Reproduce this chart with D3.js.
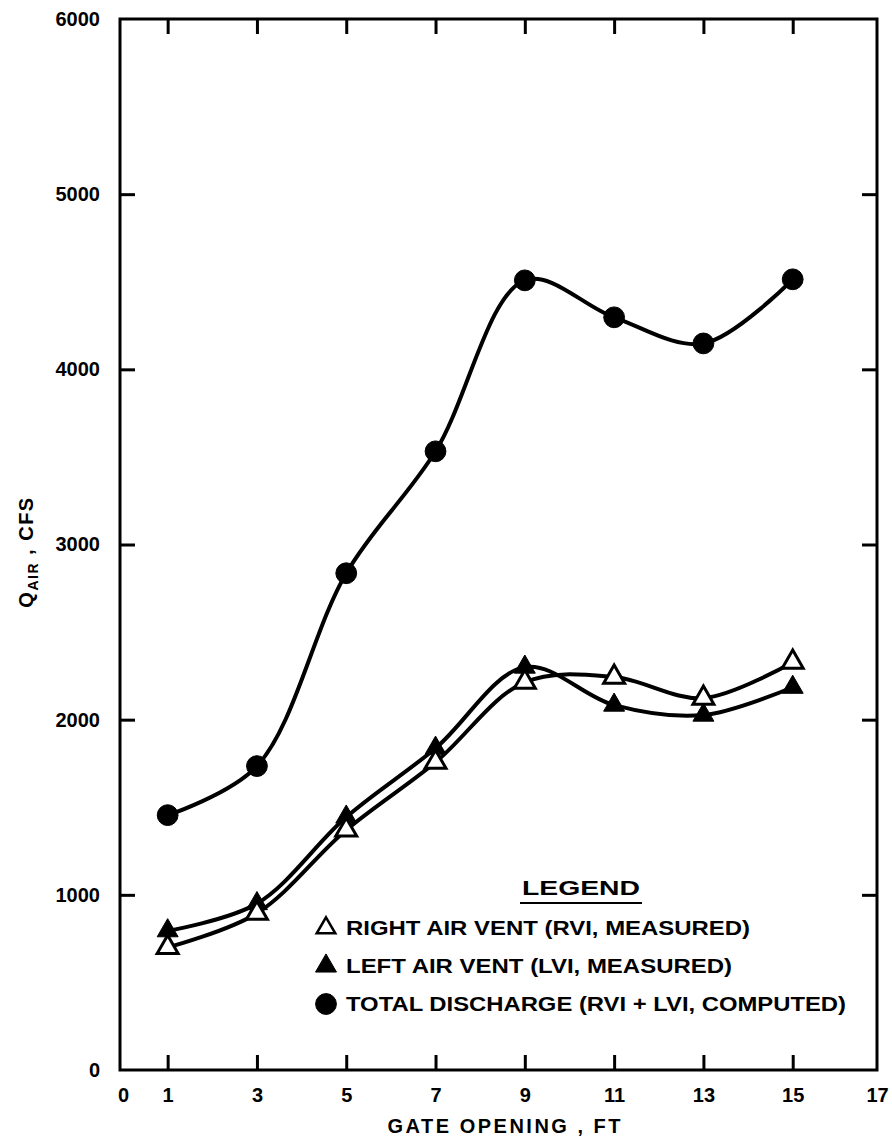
<!DOCTYPE html>
<html>
<head>
<meta charset="utf-8">
<script src="https://cdn.jsdelivr.net/npm/d3@7"></script>
<style>
  body { margin: 0; background: #fff; }
  svg { display: block; }
  text { font-family: "Liberation Sans", Arial, sans-serif; font-weight: bold; fill: #000; }
</style>
</head>
<body>
<svg width="892" height="1140"></svg>
<script>
// Data (gate opening in ft, air discharge in cfs)
const gateOpening    = [1, 3, 5, 7, 9, 11, 13, 15];
const rightVent      = [700, 895, 1370, 1757, 2214, 2243, 2123, 2328];
const leftVent       = [795, 950, 1444, 1837, 2300, 2083, 2026, 2185];
const totalDischarge = [1455, 1735, 2836, 3532, 4508, 4297, 4148, 4514];

const xTickValues  = [1, 3, 5, 7, 9, 11, 13, 15];
const xLabelValues = [0, 1, 3, 5, 7, 9, 11, 13, 15, 17];
const yTickValues  = [1000, 2000, 3000, 4000, 5000];
const yLabelValues = [0, 1000, 2000, 3000, 4000, 5000, 6000];

const legendLabels = [
  "RIGHT AIR VENT (RVI, MEASURED)",
  "LEFT AIR VENT (LVI, MEASURED)",
  "TOTAL DISCHARGE (RVI + LVI, COMPUTED)"
];

// Plot frame
const plotLeft = 120, plotRight = 877, plotTop = 19, plotBottom = 1070;

const svg = d3.select('svg');

// the hand-drawn scale runs a little past the frame on the right
const x = d3.scaleLinear().domain([0, 17]).range([123, 882]);
const y = d3.scaleLinear().domain([0, 6000]).range([plotBottom, plotTop]);

// Inward ticks on all four sides
const tickLen = 15;
svg.append('g').attr('transform', `translate(0,${plotBottom})`)
  .call(d3.axisBottom(x).tickValues(xTickValues).tickSize(-tickLen).tickFormat(''));
svg.append('g').attr('transform', `translate(0,${plotTop})`)
  .call(d3.axisTop(x).tickValues(xTickValues).tickSize(-tickLen).tickFormat(''));
svg.append('g').attr('transform', `translate(${plotLeft},0)`)
  .call(d3.axisLeft(y).tickValues(yTickValues).tickSize(-tickLen).tickFormat(''));
svg.append('g').attr('transform', `translate(${plotRight},0)`)
  .call(d3.axisRight(y).tickValues(yTickValues).tickSize(-tickLen).tickFormat(''));

svg.selectAll('.tick line').attr('stroke', '#000').attr('stroke-width', 3);
svg.selectAll('.domain').remove();

// Tick labels
const xLabels = svg.append('g').attr('transform', `translate(0,${plotBottom})`)
  .call(d3.axisBottom(x).tickValues(xLabelValues).tickSize(0).tickPadding(18).tickFormat(d3.format('d')));
const yLabels = svg.append('g').attr('transform', `translate(${plotLeft},0)`)
  .call(d3.axisLeft(y).tickValues(yLabelValues).tickSize(0).tickPadding(20).tickFormat(d3.format('d')));
[xLabels, yLabels].forEach(g => {
  g.select('.domain').remove();
  g.selectAll('text').attr('font-size', 20).attr('font-family', null);
});
// keep the last label inside the page
xLabels.selectAll('text').filter(d => d === 17).attr('dx', -5);

// Frame
svg.append('rect')
  .attr('x', plotLeft).attr('y', plotTop)
  .attr('width', plotRight - plotLeft).attr('height', plotBottom - plotTop)
  .attr('fill', 'none').attr('stroke', '#000').attr('stroke-width', 3);

// Axis titles
svg.append('text')
  .attr('x', 504).attr('y', 1133)
  .attr('text-anchor', 'middle')
  .attr('font-size', 20)
  .attr('textLength', 233)
  .attr('lengthAdjust', 'spacing')
  .text('GATE OPENING , FT');

const yTitle = svg.append('text')
  .attr('transform', 'translate(33,552) rotate(-90)')
  .attr('text-anchor', 'middle')
  .attr('font-size', 20)
  .attr('letter-spacing', 1.5);
yTitle.append('tspan').text('Q');
yTitle.append('tspan').attr('font-size', 14).attr('dy', 5).text('AIR');
yTitle.append('tspan').attr('dy', -5).text(' ,  CFS');

// Curves
const line = d3.line()
  .x((d, i) => x(gateOpening[i]))
  .y(d => y(d))
  .curve(d3.curveCatmullRom.alpha(0.5));

[totalDischarge, leftVent, rightVent].forEach(values => {
  svg.append('path')
    .datum(values)
    .attr('d', line)
    .attr('fill', 'none')
    .attr('stroke', '#000')
    .attr('stroke-width', 4);
});

const triangle = d3.symbol().type(d3.symbolTriangle).size(190);
const dot = d3.symbol().type(d3.symbolCircle).size(340);

function drawMarkers(values, shape) {
  svg.append('g').selectAll('path')
    .data(values)
    .join('path')
    .attr('transform', (d, i) => `translate(${x(gateOpening[i])},${y(d)})`)
    .attr('d', shape === 'circle' ? dot : triangle)
    .attr('fill', shape === 'open' ? '#fff' : '#000')
    .attr('stroke', '#000')
    .attr('stroke-width', shape === 'open' ? 3 : 1);
}

drawMarkers(totalDischarge, 'circle');
drawMarkers(leftVent, 'filled');
drawMarkers(rightVent, 'open');

// Legend
svg.append('text')
  .attr('x', 581).attr('y', 895)
  .attr('text-anchor', 'middle')
  .attr('font-size', 20)
  .attr('font-weight', 'normal')
  .attr('textLength', 118)
  .attr('lengthAdjust', 'spacingAndGlyphs')
  .text('LEGEND');
svg.append('line')
  .attr('x1', 520).attr('x2', 642)
  .attr('y1', 903).attr('y2', 903)
  .attr('stroke', '#000').attr('stroke-width', 2);

const legendShapes = ['open', 'filled', 'circle'];
const legendWidths = [404, 386, 500];
legendLabels.forEach((label, i) => {
  const cy = 928 + i * 38;
  const shape = legendShapes[i];
  svg.append('path')
    .attr('transform', `translate(326,${cy})`)
    .attr('d', shape === 'circle' ? dot : (shape === 'open' ? d3.symbol().type(d3.symbolTriangle).size(150) : triangle))
    .attr('fill', shape === 'open' ? '#fff' : '#000')
    .attr('stroke', '#000')
    .attr('stroke-width', shape === 'open' ? 2.5 : 1);
  svg.append('text')
    .attr('x', 346).attr('y', cy + 7)
    .attr('font-size', 20)
    .attr('font-weight', 'normal')
    .attr('textLength', legendWidths[i])
    .attr('lengthAdjust', 'spacingAndGlyphs')
    .text(label);
});
</script>
</body>
</html>
